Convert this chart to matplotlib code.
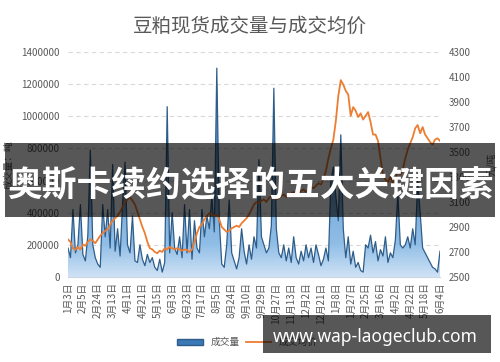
import numpy as np
import matplotlib
matplotlib.use("Agg")
import matplotlib.pyplot as plt
from matplotlib.colors import LinearSegmentedColormap
from matplotlib.patches import Rectangle, Patch
from matplotlib.lines import Line2D
from matplotlib.ticker import FuncFormatter

plt.rcParams['font.family'] = ['Noto Sans CJK SC', 'DejaVu Sans']

# x tick labels, one every 6 data points
tick_labels = ['1月3日', '2月5日', '2月24日', '3月13日', '4月1日', '4月21日', '5月15日',
               '6月3日', '6月23日', '7月17日', '8月5日', '8月24日', '9月10日', '9月29日',
               '10月27日', '11月13日', '12月2日', '12月21日', '1月8日', '1月27日',
               '2月25日', '3月16日', '4月2日', '4月22日', '5月18日', '6月4日']

# 成交量 (吨)
volume = [180000, 120000, 420000, 150000, 200000, 450000,
          140000, 100000, 260000, 790000, 200000, 120000,
          80000, 60000, 450000, 250000, 420000, 180000,
          700000, 160000, 300000, 130000, 450000, 715000,
          200000, 150000, 380000, 100000, 90000, 200000,
          110000, 70000, 140000, 90000, 120000, 60000,
          40000, 110000, 30000, 90000, 1060000, 150000,
          400000, 180000, 140000, 250000, 120000, 450000,
          150000, 420000, 110000, 350000, 180000, 150000,
          420000, 250000, 380000, 300000, 500000, 280000,
          1300000, 350000, 80000, 60000, 200000, 480000,
          150000, 100000, 50000, 120000, 300000, 160000,
          80000, 200000, 110000, 250000, 180000, 730000,
          250000, 200000, 150000, 180000, 320000, 1175000,
          300000, 150000, 120000, 200000, 100000, 180000,
          90000, 250000, 120000, 80000, 160000, 100000,
          200000, 120000, 180000, 90000, 200000, 140000,
          70000, 110000, 180000, 100000, 600000, 685000,
          500000, 350000, 885000, 300000, 120000, 250000,
          80000, 160000, 60000, 90000, 40000, 30000,
          200000, 180000, 260000, 150000, 220000, 100000,
          170000, 130000, 250000, 90000, 150000, 120000,
          230000, 520000, 200000, 180000, 200000, 250000,
          180000, 300000, 200000, 600000, 400000, 180000,
          150000, 120000, 90000, 60000, 50000, 30000,
          160000]

# 成交均价 (元/吨)
price = [2800, 2780, 2730, 2716, 2740, 2720,
         2760, 2750, 2780, 2800, 2790, 2770,
         2800, 2830, 2850, 2870, 2880, 2920,
         2950, 2970, 2990, 3020, 3060, 3100,
         3120, 3140, 3110, 3080, 3020, 2960,
         2900, 2850, 2780, 2730, 2720, 2700,
         2690, 2710, 2700, 2730, 2720, 2740,
         2730, 2720, 2730, 2720, 2710, 2720,
         2716, 2700, 2720, 2780, 2850, 2900,
         2920, 2960, 2990, 3010, 3000, 2990,
         3000, 2960, 2900, 2880, 2860, 2870,
         2890, 2900, 2910, 2900, 2930, 2950,
         2970, 3000, 3040, 3080, 3100, 3090,
         3110, 3120, 3100, 3130, 3150, 3140,
         3120, 3130, 3150, 3160, 3140, 3150,
         3170, 3180, 3160, 3170, 3190, 3200,
         3180, 3200, 3220, 3210, 3230, 3250,
         3240, 3280, 3350, 3450, 3530, 3600,
         3750, 3950, 4076, 4040, 3990, 3960,
         3790, 3860, 3830, 3780, 3810, 3760,
         3790, 3820, 3740, 3640, 3640, 3590,
         3450, 3320, 3280, 3260, 3300, 3250,
         3280, 3350, 3320, 3360, 3450, 3520,
         3570, 3620, 3690, 3716, 3650, 3700,
         3640, 3610, 3580, 3560, 3600, 3610,
         3590]

x = np.arange(len(volume))
grey = '#595959'

fig = plt.figure(figsize=(5, 3.62), dpi=100)
ax = fig.add_axes([0.136, 0.235, 0.744, 0.621])
ax2 = ax.twinx()

# gradient filled area for volume
poly = ax.fill_between(x, volume, 0, color='none')
cmap = LinearSegmentedColormap.from_list(
    'vol', [(0, '#cfe2f5'), (0.15, '#8fbde6'), (1, '#3a76b4')])
grad = np.linspace(0, 1, 256).reshape(-1, 1)
im = ax.imshow(grad, extent=[0, len(x) - 1, 0, 1400000], origin='lower',
               aspect='auto', cmap=cmap, zorder=1)
im.set_clip_path(poly.get_paths()[0], ax.transData)
ax.plot(x, volume, color='#2f5d8a', lw=0.9, zorder=2)

ax2.plot(x, price, color='#ed7d31', lw=1.3)

ax.set_xlim(0, len(x) - 1)
ax.set_ylim(0, 1400000)
ax2.set_ylim(2500, 4300)
ax.set_yticks(range(0, 1400001, 200000))
ax.yaxis.set_major_formatter(FuncFormatter(lambda v, p: f'{v:.0f}'))
ax2.set_yticks(range(2500, 4301, 200))
ax.set_xticks(x[::6])
ax.set_xticklabels(tick_labels, rotation=90)

ax.grid(axis='y', ls=(0, (4, 3)), color='#d9d9d9', lw=0.8)
ax.set_axisbelow(True)
for s in ['top', 'left', 'right']:
    ax.spines[s].set_visible(False)
ax.spines['bottom'].set_color('#c9d6e3')
for s in ax2.spines.values():
    s.set_visible(False)
ax.tick_params(length=0, labelsize=7, labelcolor=grey, pad=6)
ax.tick_params(axis='x', pad=4)
ax2.tick_params(length=0, labelsize=7, labelcolor=grey, pad=6)

fig.text(0.5, 0.928, '豆粕现货成交量与成交均价', ha='center', va='center',
         fontsize=14, color=grey)
fig.text(0.018, 0.545, '成交量：吨', rotation=90, ha='center', va='center',
         fontsize=7, color=grey)
fig.text(0.982, 0.545, '元/吨', rotation=90, ha='center', va='center',
         fontsize=7, color=grey)

handles = [Patch(facecolor='#3a78b8', edgecolor='#2f5d8a'),
           Line2D([], [], color='#ed7d31', lw=1.3)]
fig.legend(handles, ['成交量', '成交均价'], loc='center',
           bbox_to_anchor=(0.495, 0.055), ncol=2, frameon=False, fontsize=7,
           handlelength=2.6, handleheight=0.6, columnspacing=0.6,
           labelcolor=grey)

# overlay banners
fig.add_artist(Rectangle((0.01, 0.4006), 0.98, 0.2044, transform=fig.transFigure,
                         facecolor='black', alpha=0.66, zorder=10, lw=0))
fig.text(0.5, 0.487, '奥斯卡续约选择的五大关键因素', ha='center', va='center',
         fontsize=25, fontweight='bold', color='white', zorder=11)

fig.add_artist(Rectangle((0.526, 0.0249), 0.456, 0.105, transform=fig.transFigure,
                         facecolor='black', alpha=0.66, zorder=10, lw=0))
fig.text(0.751, 0.068, 'www.wap-laogeclub.com', ha='center', va='center',
         fontsize=12.5, fontweight='bold', color='white', family='Noto Sans',
         zorder=11)

fig.savefig('out.png', dpi=100)
